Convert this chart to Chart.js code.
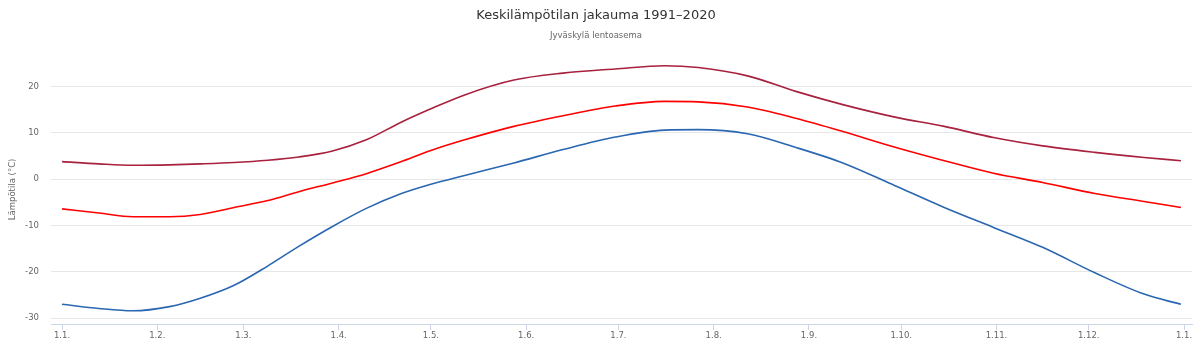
<!DOCTYPE html>
<html>
  <head>
    <meta charset="utf-8">
    <script src="https://cdn.jsdelivr.net/npm/chart.js@4/dist/chart.umd.min.js"></script>
    <style>
      html, body { margin: 0; padding: 0; background: #fff; }
      #wrap { width: 1200px; height: 352px; }
    </style>
  </head>

  <body>
    <div id="wrap">
      <canvas id="canvas"></canvas>
    </div>
    <script>
      const days = [0, 12, 23, 35, 45, 56, 67, 77, 88, 99, 110, 120, 131, 147, 163, 180, 196, 207, 223, 239, 254, 271, 287, 303, 319, 336, 352, 364];
      const maxTemp = [3.8, 3.3, 3.0, 3.1, 3.3, 3.6, 4.1, 4.8, 6.1, 8.5, 12.2, 15.2, 18.2, 21.4, 22.9, 23.8, 24.5, 24.1, 22.3, 18.9, 16.1, 13.4, 11.4, 9.0, 7.2, 5.8, 4.7, 4.0];
      const meanTemp = [-6.4, -7.3, -8.1, -8.1, -7.6, -6.1, -4.6, -2.7, -0.8, 1.2, 3.7, 6.2, 8.5, 11.4, 13.7, 15.8, 16.8, 16.7, 15.6, 13.1, 10.3, 6.9, 4.0, 1.3, -0.7, -3.1, -4.8, -6.1];
      const minTemp = [-27.0, -27.9, -28.4, -27.5, -25.7, -22.9, -18.7, -14.5, -10.2, -6.3, -3.2, -1.1, 0.8, 3.5, 6.4, 9.1, 10.6, 10.7, 9.8, 6.8, 3.5, -1.4, -6.1, -10.4, -14.7, -20.2, -24.8, -27.0];

      const monthStarts = [0, 31, 59, 90, 120, 151, 181, 212, 243, 273, 304, 334, 365];
      const monthLabels = ['1.1.', '1.2.', '1.3.', '1.4.', '1.5.', '1.6.', '1.7.', '1.8.', '1.9.', '1.10.', '1.11.', '1.12.', '1.1.'];
      const yTicks = [-30, -20, -10, 0, 10, 20];

      const font = "'Lucida Grande', 'Lucida Sans Unicode', 'DejaVu Sans', sans-serif";

      function pts(vals) {
        return days.map((d, i) => ({ x: d, y: vals[i] }));
      }

      function line(label, vals, color) {
        return {
          label: label,
          data: pts(vals),
          borderColor: color,
          borderWidth: 1.6,
          pointRadius: 0,
          cubicInterpolationMode: 'monotone',
          fill: false,
        };
      }

      new Chart(document.getElementById('canvas').getContext('2d'), {
        type: 'line',
        data: {
          datasets: [
            line('Ylin', maxTemp, '#a8213f'),
            line('Keskiarvo', meanTemp, '#ff0000'),
            line('Alin', minTemp, '#2a67b1'),
          ],
        },
        options: {
          responsive: true,
          maintainAspectRatio: false,
          animation: false,
          layout: { padding: { left: 0, right: 8, top: 0, bottom: 0 } },
          plugins: {
            legend: { display: false },
            tooltip: { enabled: false },
            title: {
              display: true,
              text: 'Keskilämpötilan jakauma 1991–2020',
              color: '#333333',
              font: { family: font, size: 13, weight: 'normal' },
              padding: { top: 8, bottom: 4 },
            },
            subtitle: {
              display: true,
              text: 'Jyväskylä lentoasema',
              color: '#666666',
              font: { family: font, size: 8.5 },
              padding: { top: 3, bottom: 14 },
            },
          },
          scales: {
            x: {
              type: 'linear',
              min: -3.58,
              max: 367.6,
              afterBuildTicks: (scale) => {
                scale.ticks = monthStarts.map((v) => ({ value: v }));
              },
              afterFit: (scale) => {
                scale.height = 28;
              },
              grid: {
                drawOnChartArea: false,
                tickLength: 6,
                color: '#ccd6eb',
              },
              border: { color: '#ccd6eb' },
              ticks: {
                autoSkip: false,
                maxRotation: 0,
                padding: 1,
                color: '#666666',
                font: { family: font, size: 8.5 },
                callback: (v, i) => monthLabels[i],
              },
            },
            y: {
              min: -31.25,
              max: 26.85,
              afterBuildTicks: (scale) => {
                scale.ticks = yTicks.map((v) => ({ value: v }));
              },
              afterFit: (scale) => {
                scale.width = 51;
              },
              grid: {
                color: '#e6e6e6',
                drawTicks: false,
              },
              border: { display: false },
              ticks: {
                padding: 12,
                color: '#666666',
                font: { family: font, size: 8.5 },
              },
              title: {
                display: true,
                text: 'Lämpötila (°C)',
                color: '#666666',
                font: { family: font, size: 8.5 },
                padding: { top: 8, bottom: 0 },
              },
            },
          },
        },
      });
    </script>
  </body>
</html>
